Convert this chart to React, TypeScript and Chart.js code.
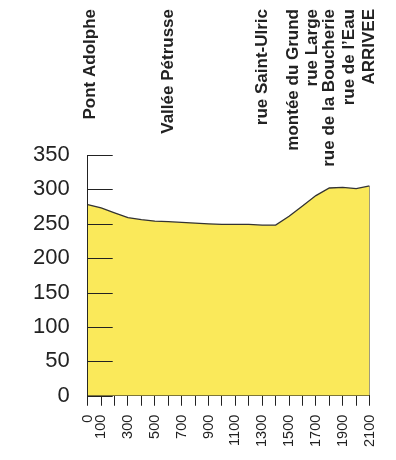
import React, { useEffect, useRef } from "react";
import { Chart, registerables } from "chart.js";
Chart.register(...registerables);

const distances = [0, 100, 200, 300, 400, 500, 600, 700, 800, 900, 1000, 1100, 1200, 1300, 1400, 1500, 1600, 1700, 1800, 1900, 2000, 2100];
const elevations = [278, 273, 266, 259, 256, 254, 253, 252, 251, 250, 249, 249, 249, 248, 248, 261, 276, 291, 302, 303, 301, 305];

const placeNames = ["Pont Adolphe", "Vallée Pétrusse", "rue Saint-Ulric", "montée du Grund", "rue Large", "rue de la Boucherie", "rue de l\u2019Eau", "ARRIVEE"];
const placeDistances = [20, 600, 1300, 1530, 1670, 1800, 1950, 2100];

const xTickValues = [0, 100, 200, 300, 400, 500, 600, 700, 800, 900, 1000, 1100, 1200, 1300, 1400, 1500, 1600, 1700, 1800, 1900, 2000, 2100];
const xLabelValues = [0, 100, 300, 500, 700, 900, 1100, 1300, 1500, 1700, 1900, 2100];

const FONT = "'Liberation Sans', Arial, sans-serif";

export default function App() {
  const ref = useRef<HTMLCanvasElement | null>(null);
  useEffect(() => {
    if (!ref.current) return;
    const overlay = {
      id: "overlay",
      afterDraw(chart: any) {
        const { ctx, scales } = chart;
        const x = scales.x;
        const y = scales.y;
        ctx.save();
        ctx.strokeStyle = "#222";
        ctx.lineWidth = 1;
        y.ticks.forEach((t: any) => {
          const py = Math.round(y.getPixelForValue(t.value)) + 0.5;
          ctx.beginPath();
          ctx.moveTo(x.left, py);
          ctx.lineTo(x.left + 25, py);
          ctx.stroke();
        });
        ctx.fillStyle = "#222";
        ctx.font = `bold 17px ${FONT}`;
        ctx.textAlign = "right";
        ctx.textBaseline = "middle";
        placeNames.forEach((name, i) => {
          const px = x.getPixelForValue(placeDistances[i]);
          ctx.save();
          ctx.translate(px, 9);
          ctx.rotate(-Math.PI / 2);
          ctx.fillText(name, 0, 0);
          ctx.restore();
        });
        ctx.restore();
      },
    };
    const chart = new Chart(ref.current, {
      type: "line",
      data: {
        datasets: [
          {
            data: distances.map((d, i) => ({ x: d, y: elevations[i] })),
            fill: "origin",
            backgroundColor: "#FAE95A",
            borderColor: "#333",
            borderWidth: 1.3,
            pointRadius: 0,
            tension: 0,
          },
          {
            data: [
              { x: distances[distances.length - 1], y: 0 },
              { x: distances[distances.length - 1], y: elevations[elevations.length - 1] },
            ],
            fill: false,
            borderColor: "#333",
            borderWidth: 1.3,
            pointRadius: 0,
          },
        ],
      },
      options: {
        animation: false,
        responsive: true,
        maintainAspectRatio: false,
        layout: { padding: { top: 155, left: 15, right: 26, bottom: 4 } },
        plugins: { legend: { display: false }, tooltip: { enabled: false } },
        scales: {
          x: {
            type: "linear",
            min: 0,
            max: 2100,
            z: 1,
            afterBuildTicks: (axis: any) => {
              axis.ticks = xTickValues.map((v) => ({ value: v }));
            },
            ticks: {
              autoSkip: false,
              minRotation: 90,
              maxRotation: 90,
              padding: 9,
              color: "#222",
              font: { family: FONT, size: 14.5 },
              callback: (v: any) => (xLabelValues.includes(Number(v)) ? String(v) : ""),
            },
            grid: { drawOnChartArea: false, drawTicks: true, tickLength: 10, color: "#222" },
            border: { display: true, color: "#222", width: 1 },
          },
          y: {
            min: 0,
            max: 350,
            z: 1,
            ticks: {
              stepSize: 50,
              padding: 18,
              color: "#222",
              font: { family: FONT, size: 22 },
            },
            grid: { drawOnChartArea: false, drawTicks: false },
            border: { display: true, color: "#222", width: 1 },
          },
        },
      },
      plugins: [overlay],
    });
    return () => chart.destroy();
  }, []);
  return (
    <div style={{ position: "fixed", left: 0, top: 0, width: 396, height: 460, background: "#fff" }}>
      <canvas ref={ref} />
    </div>
  );
}
